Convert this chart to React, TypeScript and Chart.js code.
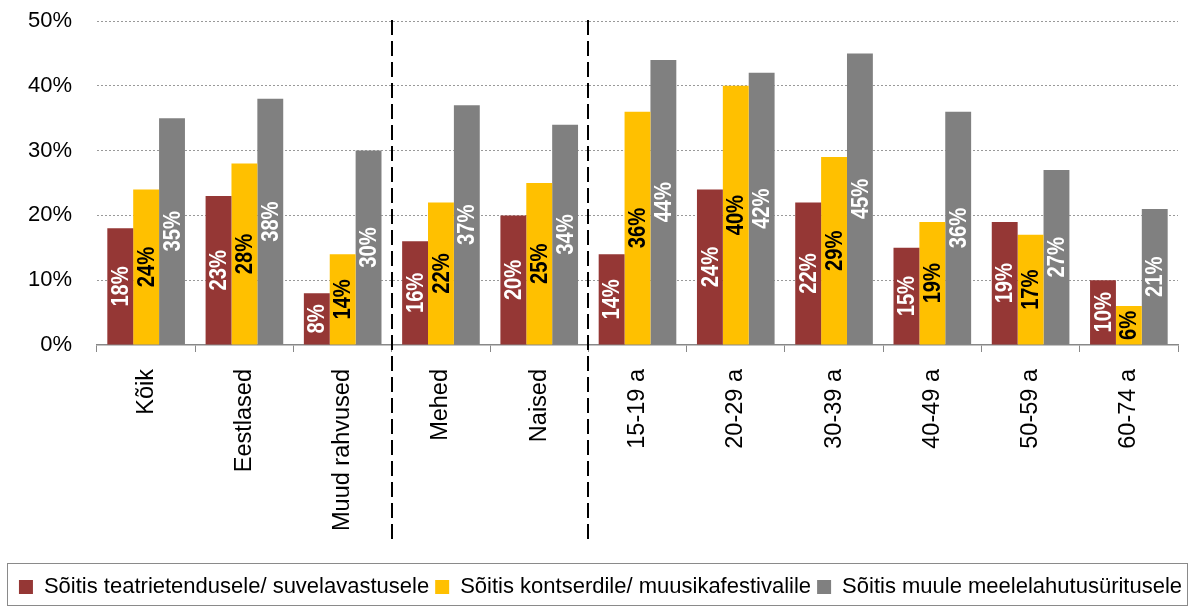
import React, { useEffect, useRef } from "react";
import { Chart, registerables } from "chart.js";

Chart.register(...registerables);

const categories = [
  "Kõik",
  "Eestlased",
  "Muud rahvused",
  "Mehed",
  "Naised",
  "15-19 a",
  "20-29 a",
  "30-39 a",
  "40-49 a",
  "50-59 a",
  "60-74 a",
];
const seriesNames = [
  "Sõitis teatrietendusele/ suvelavastusele",
  "Sõitis kontserdile/ muusikafestivalile",
  "Sõitis muule meelelahutusüritusele",
];
const theatre = [18, 23, 8, 16, 20, 14, 24, 22, 15, 19, 10];
const concert = [24, 28, 14, 22, 25, 36, 40, 29, 19, 17, 6];
const other = [35, 38, 30, 37, 34, 44, 42, 45, 36, 27, 21];
const yTicks = [0, 10, 20, 30, 40, 50];
// index of the first category of each new group (dashed separator before it)
const groupStarts = [3, 5];

const colors = ["#953735", "#FFC000", "#808080"];
const labelColors = ["#FFFFFF", "#000000", "#FFFFFF"];
const FONT = "'Liberation Sans', Arial, Helvetica, sans-serif";

const dataLabelsPlugin = {
  id: "dataLabels",
  afterDatasetsDraw(chart: any) {
    const ctx = chart.ctx;
    chart.data.datasets.forEach((ds: any, di: number) => {
      const meta = chart.getDatasetMeta(di);
      meta.data.forEach((bar: any, i: number) => {
        const v = ds.data[i];
        const { x, y, base } = bar.getProps(["x", "y", "base"], true);
        const cy = (y + base) / 2;
        ctx.save();
        ctx.translate(x, cy);
        ctx.rotate(-Math.PI / 2);
        ctx.scale(0.84, 1);
        ctx.font = `bold 24px ${FONT}`;
        ctx.fillStyle = labelColors[di];
        ctx.textAlign = "center";
        ctx.textBaseline = "middle";
        ctx.fillText(`${v}%`, 0, 1);
        ctx.restore();
      });
    });
  },
};

const separatorsPlugin = {
  id: "separators",
  afterDatasetsDraw(chart: any) {
    const xs = chart.scales.x;
    const ctx = chart.ctx;
    ctx.save();
    ctx.strokeStyle = "#000";
    ctx.lineWidth = 2;
    ctx.setLineDash([15, 6]);
    groupStarts.forEach((i) => {
      const px = Math.round((xs.getPixelForValue(i - 1) + xs.getPixelForValue(i)) / 2);
      ctx.beginPath();
      ctx.moveTo(px, chart.chartArea.top - 1);
      ctx.lineTo(px, xs.bottom - 29);
      ctx.stroke();
    });
    ctx.restore();
  },
};

const legendBorderPlugin = {
  id: "legendBorder",
  afterDraw(chart: any) {
    const lg = chart.legend;
    if (!lg) return;
    const ctx = chart.ctx;
    ctx.save();
    ctx.strokeStyle = "#8a8a8a";
    ctx.lineWidth = 1;
    ctx.strokeRect(7.5, Math.round(lg.top) - 6.5, chart.width - 11, lg.bottom - lg.top + 4);
    ctx.restore();
  },
};

export default function App() {
  const canvasRef = useRef<HTMLCanvasElement | null>(null);

  useEffect(() => {
    if (!canvasRef.current) return;
    Chart.defaults.font.family = FONT;
    Chart.defaults.color = "#000";
    const series = [theatre, concert, other];
    const chart = new Chart(canvasRef.current, {
      type: "bar",
      data: {
        labels: categories,
        datasets: series.map((d, i) => ({
          label: seriesNames[i],
          data: d,
          backgroundColor: colors[i],
          borderWidth: 0,
          categoryPercentage: 0.79,
          barPercentage: 1.0,
          yAxisID: "y",
        })),
      },
      options: {
        animation: false,
        responsive: false,
        devicePixelRatio: 1,
        layout: { padding: { left: 10, right: 0, top: 21, bottom: 2 } },
        plugins: {
          legend: {
            position: "bottom",
            labels: {
              boxWidth: 14,
              boxHeight: 14,
              padding: 6,
              color: "#000",
              font: { size: 22, family: FONT },
            },
          },
          tooltip: { enabled: false },
        },
        scales: {
          x: {
            grid: {
              offset: true,
              drawOnChartArea: false,
              drawTicks: true,
              tickLength: 7,
              color: "#888",
              lineWidth: 1,
            },
            border: { display: true, color: "#888", width: 1.5 },
            ticks: {
              minRotation: 90,
              maxRotation: 90,
              autoSkip: false,
              padding: 17,
              color: "#000",
              font: { size: 23.5, family: FONT },
            },
            afterFit: (s: any) => {
              s.height = 225;
            },
          },
          y: {
            position: "left",
            min: 0,
            max: 50,
            afterBuildTicks: (s: any) => {
              s.ticks = yTicks.map((v) => ({ value: v }));
            },
            ticks: {
              padding: 4,
              color: "#000",
              font: { size: 22, family: FONT },
              callback: (v: any) => `${v}%`,
            },
            grid: {
              drawTicks: true,
              tickLength: 21,
              tickColor: "rgba(0,0,0,0)",
              lineWidth: 1,
              color: (c: any) => (c.tick && c.tick.value === 0 ? "rgba(0,0,0,0)" : "#999"),
            },
            border: { display: false, dash: [2, 2] },
            afterFit: (s: any) => {
              s.width = 87;
            },
          },
          y2: {
            position: "right",
            display: true,
            grid: { display: false, drawTicks: false },
            border: { display: false },
            ticks: { display: false },
            afterFit: (s: any) => {
              s.width = 13;
            },
          },
        },
      },
      plugins: [separatorsPlugin, dataLabelsPlugin, legendBorderPlugin],
    });
    return () => chart.destroy();
  }, []);

  return (
    <div style={{ position: "absolute", left: 0, top: 0, width: 1191, height: 610, background: "#fff" }}>
      <canvas ref={canvasRef} width={1191} height={610} style={{ display: "block" }} />
    </div>
  );
}
